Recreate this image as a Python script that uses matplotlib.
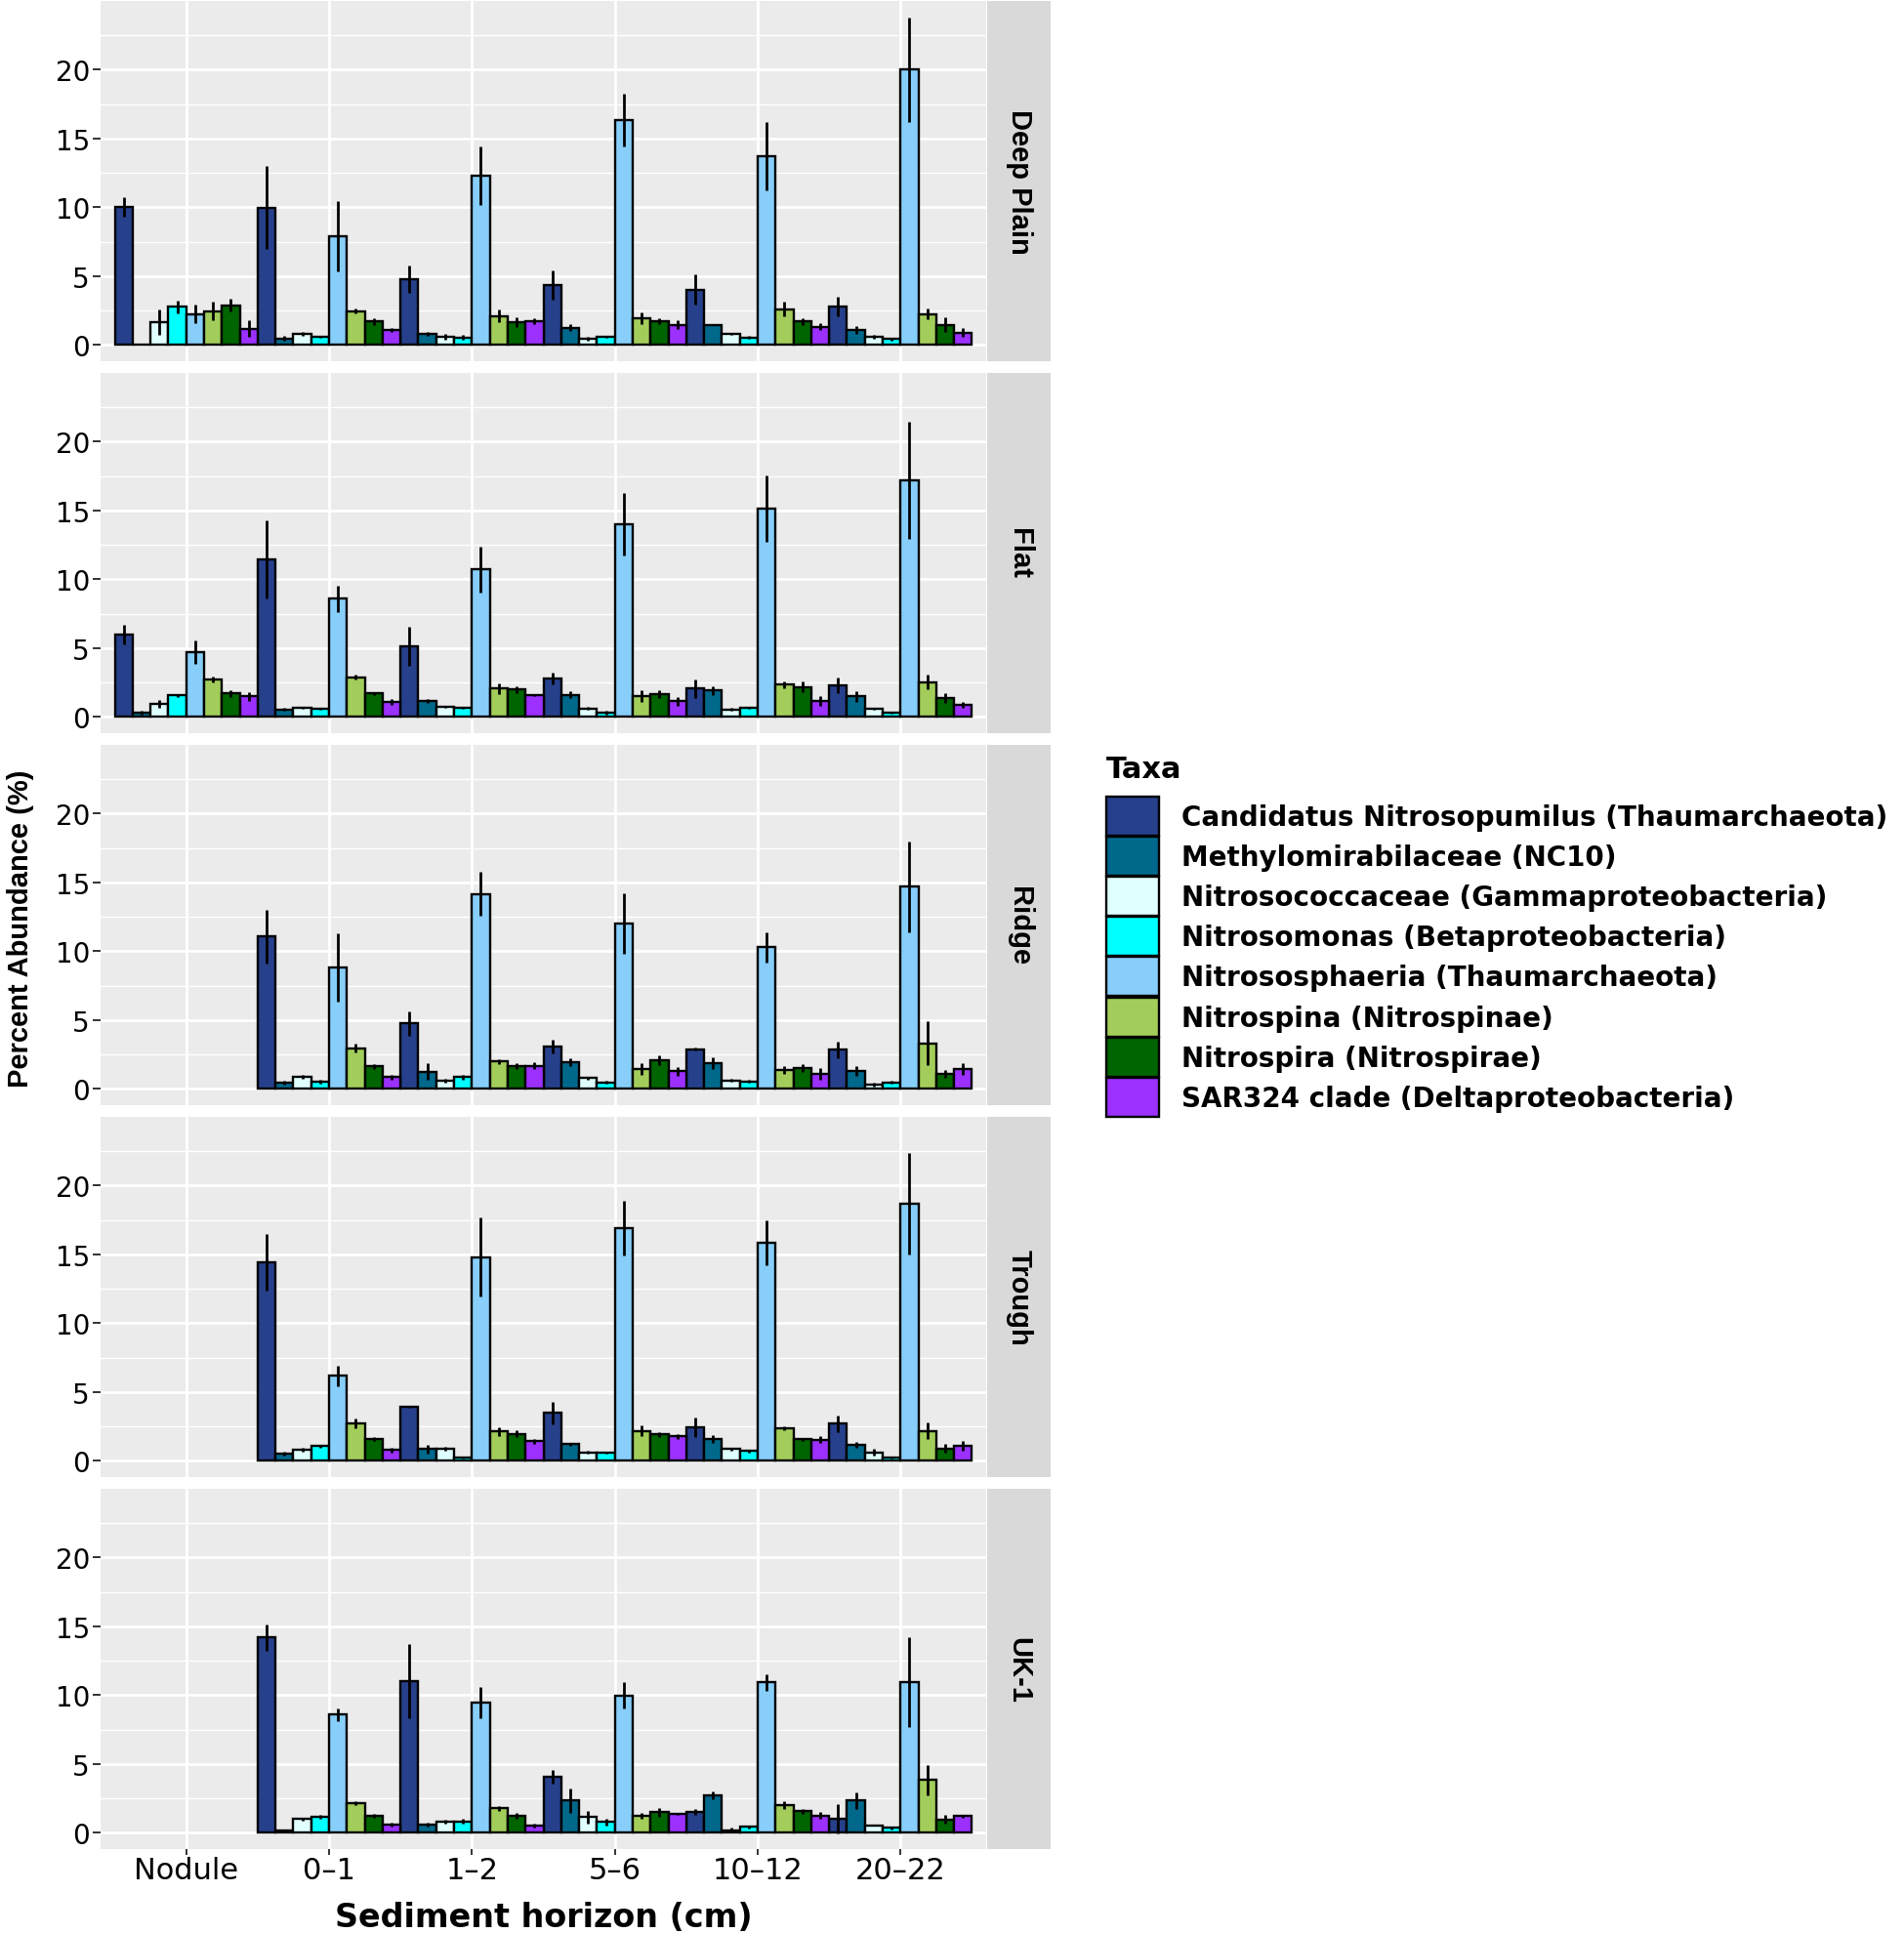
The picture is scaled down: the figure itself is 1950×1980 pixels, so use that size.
''' nitrifier taxa abundance per site and sediment horizon '''
import numpy as np
import matplotlib
matplotlib.use('Agg')
import matplotlib.pyplot as plt
from matplotlib.patches import Patch
from matplotlib.ticker import MultipleLocator

#%% data
horizons = ['Nodule', '0\u20131', '1\u20132', '5\u20136', '10\u201312', '20\u201322']
sites = ['Deep Plain', 'Flat', 'Ridge', 'Trough', 'UK-1']
taxa = ['Candidatus Nitrosopumilus (Thaumarchaeota)',
        'Methylomirabilaceae (NC10)',
        'Nitrosococcaceae (Gammaproteobacteria)',
        'Nitrosomonas (Betaproteobacteria)',
        'Nitrososphaeria (Thaumarchaeota)',
        'Nitrospina (Nitrospinae)',
        'Nitrospira (Nitrospirae)',
        'SAR324 clade (Deltaproteobacteria)']
taxa_colors = ['#27408B', '#00688B', '#E0FFFF', '#00FFFF',
               '#87CEFA', '#A2CD5A', '#006400', '#9B30FF']

nan8 = [np.nan] * 8

# rows = horizons, columns = taxa (mean %, error)
deep_plain_mean = [[10.0, 0.05, 1.66, 2.76, 2.25, 2.46, 2.88, 1.17],
                   [9.97, 0.47, 0.82, 0.58, 7.9, 2.46, 1.7, 1.08],
                   [4.75, 0.82, 0.6, 0.54, 12.3, 2.1, 1.64, 1.7],
                   [4.33, 1.24, 0.42, 0.58, 16.33, 1.94, 1.7, 1.47],
                   [4.0, 1.47, 0.77, 0.54, 13.7, 2.6, 1.7, 1.31],
                   [2.8, 1.08, 0.58, 0.42, 20.0, 2.25, 1.47, 0.89]]
deep_plain_err = [[0.7, 0.0, 0.9, 0.45, 0.7, 0.7, 0.45, 0.6],
                  [3.0, 0.2, 0.15, 0.1, 2.55, 0.2, 0.25, 0.15],
                  [1.0, 0.15, 0.2, 0.2, 2.15, 0.45, 0.35, 0.2],
                  [1.08, 0.25, 0.15, 0.1, 1.9, 0.4, 0.2, 0.3],
                  [1.1, 0.05, 0.05, 0.1, 2.5, 0.55, 0.25, 0.25],
                  [0.7, 0.25, 0.15, 0.1, 3.8, 0.4, 0.5, 0.3]]

flat_mean = [[5.98, 0.3, 0.94, 1.55, 4.69, 2.72, 1.71, 1.48],
             [11.44, 0.54, 0.66, 0.59, 8.58, 2.88, 1.71, 1.08],
             [5.11, 1.17, 0.7, 0.66, 10.7, 2.06, 2.0, 1.55],
             [2.77, 1.6, 0.61, 0.3, 13.97, 1.48, 1.64, 1.13],
             [2.06, 1.9, 0.54, 0.66, 15.15, 2.34, 2.18, 1.17],
             [2.3, 1.48, 0.59, 0.3, 17.19, 2.53, 1.36, 0.89]]
flat_err = [[0.72, 0.15, 0.25, 0.1, 0.85, 0.2, 0.25, 0.3],
            [2.83, 0.1, 0.1, 0.1, 0.97, 0.2, 0.1, 0.2],
            [1.4, 0.15, 0.02, 0.05, 1.64, 0.4, 0.25, 0.05],
            [0.43, 0.25, 0.1, 0.15, 2.28, 0.43, 0.3, 0.3],
            [0.67, 0.35, 0.1, 0.1, 2.4, 0.25, 0.4, 0.35],
            [0.55, 0.4, 0.05, 0.1, 4.25, 0.53, 0.35, 0.2]]

ridge_mean = [nan8,
              [11.08, 0.45, 0.89, 0.54, 8.8, 2.95, 1.62, 0.84],
              [4.75, 1.24, 0.61, 0.84, 14.15, 1.97, 1.66, 1.66],
              [3.07, 1.94, 0.77, 0.45, 12.04, 1.43, 2.06, 1.26],
              [2.88, 1.85, 0.61, 0.54, 10.28, 1.38, 1.5, 1.08],
              [2.83, 1.31, 0.3, 0.45, 14.7, 3.3, 1.08, 1.43]]
ridge_err = [nan8,
             [1.95, 0.15, 0.15, 0.15, 2.5, 0.3, 0.2, 0.15],
             [0.9, 0.6, 0.15, 0.2, 1.6, 0.2, 0.2, 0.25],
             [0.5, 0.3, 0.1, 0.1, 2.2, 0.4, 0.35, 0.3],
             [0.1, 0.45, 0.1, 0.1, 1.1, 0.3, 0.3, 0.4],
             [0.6, 0.35, 0.15, 0.1, 3.3, 1.6, 0.3, 0.4]]

trough_mean = [nan8,
               [14.42, 0.54, 0.77, 1.05, 6.17, 2.72, 1.59, 0.77],
               [3.89, 0.84, 0.89, 0.23, 14.8, 2.11, 1.95, 1.41],
               [3.47, 1.2, 0.61, 0.59, 16.9, 2.18, 1.9, 1.76],
               [2.41, 1.59, 0.84, 0.7, 15.83, 2.34, 1.55, 1.52],
               [2.7, 1.13, 0.59, 0.23, 18.7, 2.18, 0.89, 1.05]]
trough_err = [nan8,
              [2.05, 0.15, 0.15, 0.1, 0.73, 0.35, 0.15, 0.2],
              [0.07, 0.3, 0.15, 0.05, 2.85, 0.35, 0.25, 0.2],
              [0.82, 0.1, 0.1, 0.1, 2.0, 0.4, 0.15, 0.2],
              [0.7, 0.3, 0.1, 0.1, 1.65, 0.15, 0.1, 0.25],
              [0.6, 0.2, 0.25, 0.05, 3.7, 0.6, 0.3, 0.35]]

uk1_mean = [nan8,
            [14.19, 0.19, 1.0, 1.13, 8.58, 2.13, 1.24, 0.61],
            [11.04, 0.59, 0.77, 0.82, 9.45, 1.76, 1.24, 0.49],
            [4.06, 2.34, 1.13, 0.77, 9.96, 1.24, 1.48, 1.36],
            [1.52, 2.72, 0.19, 0.42, 10.93, 2.02, 1.55, 1.24],
            [1.0, 2.34, 0.54, 0.35, 10.93, 3.82, 0.96, 1.2]]
uk1_err = [nan8,
           [0.95, 0.05, 0.1, 0.15, 0.45, 0.15, 0.15, 0.15],
           [2.7, 0.15, 0.15, 0.2, 1.15, 0.2, 0.2, 0.15],
           [0.5, 0.88, 0.45, 0.25, 0.95, 0.2, 0.3, 0.1],
           [0.2, 0.3, 0.2, 0.1, 0.6, 0.3, 0.2, 0.25],
           [1.05, 0.6, 0.02, 0.1, 3.27, 1.12, 0.3, 0.1]]

site_means = [deep_plain_mean, flat_mean, ridge_mean, trough_mean, uk1_mean]
site_errs = [deep_plain_err, flat_err, ridge_err, trough_err, uk1_err]

#%% style
# rotated labels look condensed, horizontal ones look wide in the reference
tall = ['Liberation Sans', 'DejaVu Sans']
wide = ['DejaVu Sans']
plt.rcParams['font.family'] = wide

panel_bg = '#EBEBEB'
strip_bg = '#D9D9D9'

# shared y range, ggplot style 5% expansion
ymax = max(np.nanmax(np.array(m) + np.array(e)) for m, e in zip(site_means, site_errs))
ylim = (-0.05 * ymax, 1.05 * ymax)

W, H = 1950, 1981
fig = plt.figure(figsize=(W / 100, H / 100), dpi=100)

left, right = 103 / W, 1010 / W
strip_w = 65 / W
panel_h = 369
panel_gap = 12
panel_tops = [2 + k * (panel_h + panel_gap) for k in range(len(sites))]

nT = len(taxa)
bw = 1.0 / nT
xg = np.arange(len(horizons))

for k, site in enumerate(sites):
    top = 1 - panel_tops[k] / H
    bottom = top - panel_h / H
    ax = fig.add_axes([left, bottom, right - left, top - bottom])
    ax.set_facecolor(panel_bg)
    ax.set_axisbelow(True)
    for s in ax.spines.values():
        s.set_visible(False)

    m = np.array(site_means[k], dtype=float)
    e = np.array(site_errs[k], dtype=float)
    for j in range(nT):
        x = xg + (j - (nT - 1) / 2) * bw
        ax.bar(x, m[:, j], width=bw, color=taxa_colors[j], edgecolor='black',
               linewidth=1.7, zorder=2)
        ok = ~np.isnan(m[:, j])
        ax.vlines(x[ok], (m[:, j] - e[:, j])[ok], (m[:, j] + e[:, j])[ok],
                  color='black', linewidth=2.0, zorder=3)

    ax.set_xlim(-0.6, len(horizons) - 0.4)
    ax.set_ylim(*ylim)
    ax.yaxis.set_major_locator(MultipleLocator(5))
    ax.yaxis.set_minor_locator(MultipleLocator(2.5))
    ax.set_xticks(xg)
    ax.grid(which='major', color='white', linewidth=2.0)
    ax.grid(which='minor', axis='y', color='white', linewidth=1.0)
    ax.tick_params(axis='y', which='major', length=6, width=1.4, color='#333333',
                   labelsize=20, labelcolor='black', pad=2)
    ax.tick_params(axis='y', which='minor', length=0)
    if k < len(sites) - 1:
        ax.tick_params(axis='x', length=0, labelbottom=False)
    else:
        ax.set_xticklabels(horizons)
        ax.tick_params(axis='x', length=4, width=1.4, color='#333333',
                       labelsize=22, labelcolor='black', pad=1)

    # facet strip
    sax = fig.add_axes([right + 1 / W, bottom, strip_w, top - bottom])
    sax.set_facecolor(strip_bg)
    sax.set_xticks([])
    sax.set_yticks([])
    for s in sax.spines.values():
        s.set_visible(False)
    sax.text(0.5, 0.5, site, rotation=270, ha='center', va='center',
             fontsize=21, fontweight='bold', family=tall, transform=sax.transAxes)

fig.text(0.011, 0.52, 'Percent Abundance (%)', rotation=90, ha='center', va='center',
         fontsize=21, fontweight='bold', family=tall)
fig.text((left + right) / 2, 0.0, 'Sediment horizon (cm)', ha='center', va='bottom',
         fontsize=24, fontweight='bold')

handles = [Patch(facecolor=c, edgecolor='black', linewidth=1.7) for c in taxa_colors]
leg = fig.legend(handles, taxa, title='Taxa', loc='upper left',
                 bbox_to_anchor=(1133 / W, 1 - 774 / H), frameon=False,
                 prop={'size': 20, 'weight': 'bold'},
                 title_fontproperties={'size': 22, 'weight': 'bold'},
                 handlelength=1.94, handleheight=1.84, labelspacing=0.04,
                 handletextpad=0.83, borderpad=0, borderaxespad=0, alignment='left')
# a little room between the title and the keys
leg._legend_box.sep = 10

fig.savefig('out.png', dpi=100)
